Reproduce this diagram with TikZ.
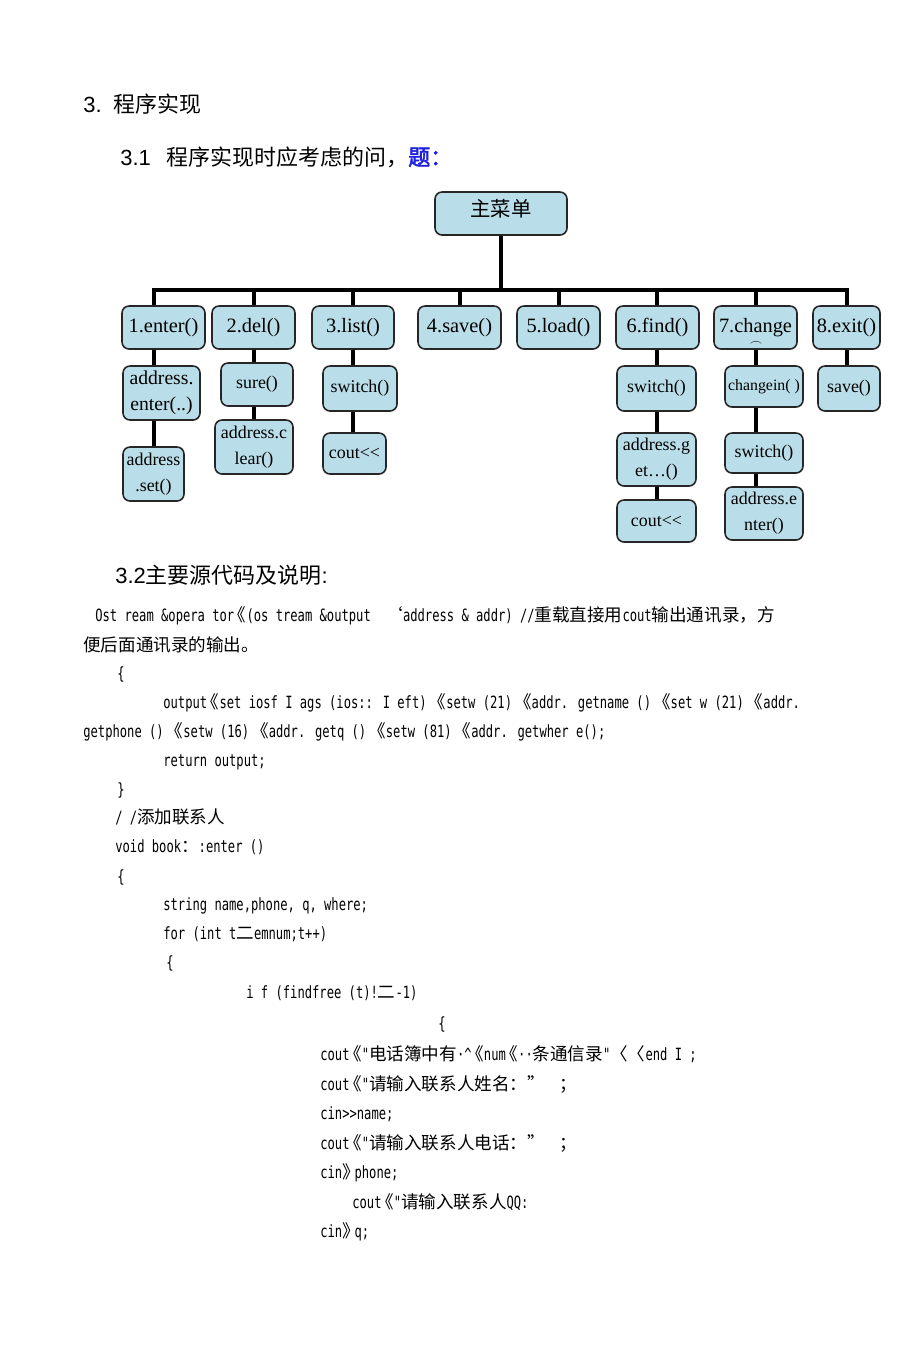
\documentclass[tikz,border=0pt]{standalone}
\usepackage{fontspec}
\setmainfont{Liberation Serif}
\newfontfamily\cjk{Noto Sans CJK SC}
\newfontfamily\cjkbold[FakeBold=2.5]{Noto Sans CJK SC}
\newfontfamily\headfont{Liberation Sans}
\newfontfamily\codefont[FakeStretch=0.72]{DejaVu Sans Mono}
\usetikzlibrary{positioning,calc}

\definecolor{menublue}{RGB}{186,222,233}
\definecolor{titleblue}{RGB}{32,32,224}
\newlength{\unitpx}\setlength{\unitpx}{0.02cm}
\newcommand{\cn}[1]{{\cjk #1}}
\newcommand{\cz}[1]{{\cjk\fontsize{10pt}{12pt}\selectfont #1}}
% narrow double angle marks as the code shows them
\newcommand{\shl}{{\cjk\fontsize{10pt}{12pt}\selectfont\kern-0.3em《}}
\newcommand{\shr}{{\cjk\fontsize{10pt}{12pt}\selectfont》\kern-0.3em}}

\begin{document}
\begin{tikzpicture}[
    x=0.02cm, y=-0.02cm,
    menu/.style={rectangle, draw=black!85, line width=0.9pt, rounded corners=4pt, fill=menublue, align=center, inner sep=1pt, font=\fontsize{11.6pt}{15pt}\selectfont},
    submenu/.style={menu, font=\fontsize{10.2pt}{15pt}\selectfont},
    sized/.style 2 args={minimum width=#1\unitpx, minimum height=#2\unitpx},
    link/.style={line width=2.2pt},
    bus/.style={line width=2.8pt, line cap=rect},
    heading/.style={anchor=west, inner sep=0pt, font=\headfont\fontsize{12.5pt}{15pt}\selectfont},
    codeline/.style={anchor=west, inner sep=0pt, font=\codefont\fontsize{9.6pt}{11pt}\selectfont}
]
    \path[fill=white] (0,0) rectangle (920,1360);
    \useasboundingbox (0,0) rectangle (920,1360);

    % --- Headings ---
    \node[heading] (sec3) at (83,104) {3.\hspace{7pt}\cn{程序实现}};
    \node[heading] (sec31) at (120,157) {3.1\hspace{9pt}\cn{程序实现时应考虑的问，}\textcolor{titleblue}{\cjkbold 题：}};

    % --- Menu tree ---
    \node[menu, sized={132}{43}, text depth=6pt] (root) at (501,213.5) {\cn{主菜单}};

    % First level
    \node[menu, sized={83}{43}] (enter) at (163.5,327.5) {1.enter()};
    \node[menu, sized={83}{43}] (del) at (253.5,327.5) {2.del()};
    \node[menu, sized={82}{43}] (list) at (353,327.5) {3.list()};
    \node[menu, sized={83}{43}] (save) at (459.5,327.5) {4.save()};
    \node[menu, sized={83}{43}] (load) at (558.5,327.5) {5.load()};
    \node[menu, sized={83}{43}] (find) at (657.5,327.5) {6.find()};
    \node[menu, sized={83}{43}] (change) at (755.5,327.5) {7.change};
    \node[menu, sized={67}{43}] (exit) at (846.5,327.5) {8.exit()};
    \node[inner sep=0pt, font=\fontsize{6pt}{6pt}\selectfont] (changemark) at (756,344) {$\frown$};

    % Second level and below
    \node[menu, sized={77}{54}, font=\fontsize{11.2pt}{15pt}\selectfont] (addrenter) at (161.5,393) {address.\\enter(..)};
    \node[submenu, sized={61}{54}] (addrset) at (153.5,474) {address\\.set()};
    \node[submenu, sized={72}{43}] (sure) at (257,384.5) {sure()};
    \node[submenu, sized={78}{54}] (addrclear) at (254,447) {address.c\\lear()};
    \node[submenu, sized={74}{45}] (listswitch) at (360,388.5) {switch()};
    \node[submenu, sized={63}{41}] (listcout) at (354.5,453.5) {cout<{}<};
    \node[submenu, sized={79}{45}] (findswitch) at (656.5,388.5) {switch()};
    \node[submenu, sized={79}{53}] (addrget) at (656.5,459.5) {address.g\\et…()};
    \node[submenu, sized={79}{42}] (findcout) at (656.5,521) {cout<{}<};
    \node[submenu, sized={78}{41}, font=\fontsize{9pt}{11pt}\selectfont] (changein) at (764,386.5) {changein( )};
    \node[submenu, sized={78}{40}] (chswitch) at (764,453) {switch()};
    \node[submenu, sized={78}{53}] (addrnew) at (764,513.5) {address.e\\nter()};
    \node[submenu, sized={62}{45}] (exitsave) at (849,388.5) {save()};

    % --- Connections ---
    \coordinate (col1) at (154,290);
    \coordinate (col2) at (254,290);
    \coordinate (col3) at (353,290);
    \coordinate (col4) at (460,290);
    \coordinate (col5) at (559,290);
    \coordinate (col6) at (657,290);
    \coordinate (col7) at (756,290);
    \coordinate (col8) at (847,290);

    \draw[link] (root.south) -- (root.south |- col1);
    \draw[bus] (col1) -- (col8);
    \foreach \c/\n in {col1/enter, col2/del, col3/list, col4/save, col5/load, col6/find, col7/change, col8/exit}
        \draw[link] (\c) -- (\c |- \n.north);
    \foreach \c/\a/\b in {col1/enter/addrenter, col1/addrenter/addrset, col2/del/sure, col2/sure/addrclear, col3/list/listswitch, col3/listswitch/listcout, col6/find/findswitch, col6/findswitch/addrget, col6/addrget/findcout, col7/change/changein, col7/changein/chswitch, col7/chswitch/addrnew, col8/exit/exitsave}
        \draw[link] (\c |- \a.south) -- (\c |- \b.north);

    % --- Source code ---
    \node[heading] (sec32) at (115,575) {3.2\cn{主要源代码及说明}:};

    \node[codeline] (c01) at (95,616) {Ost ream \&opera tor\shl(os tream \&output\ \ \cz{‘}address \& addr) //\cz{重载直接用}cout\cz{输出通讯录，方}};
    \node[codeline] (c02) at (83,645) {\cz{便后面通讯录的输出。}};
    \node[codeline] (c03) at (117,674) {\{};
    \node[codeline] (c04) at (163,703) {output\shl set iosf I ags (ios:: I eft) \shl setw (21) \shl addr. getname () \shl set w (21) \shl addr.};
    \node[codeline] (c05) at (83,732) {getphone () \shl setw (16) \shl addr. getq () \shl setw (81) \shl addr. getwher e();};
    \node[codeline] (c06) at (163,762) {return output;};
    \node[codeline] (c07) at (117,790) {\}};
    \node[codeline] (c08) at (115,817) {/ /\cz{添加联系人}};
    \node[codeline] (c09) at (115,847) {void book\cz{：}:enter ()};
    \node[codeline] (c10) at (117,877) {\{};
    \node[codeline] (c11) at (163,906) {string name,phone, q, where;};
    \node[codeline] (c12) at (163,934) {for (int t\cz{二}emnum;t++)};
    \node[codeline] (c13) at (166,963) {\{};
    \node[codeline] (c14) at (246,993) {i f (findfree (t)!\cz{二}-1)};
    \node[codeline] (c15) at (438,1024) {\{};
    \node[codeline] (c16) at (320,1054) {cout\shl"\cz{电话簿中有}·\textasciicircum\shl num\shl··\cz{条通信录}"\cz{〈〈}end I ;};
    \node[codeline] (c17) at (320,1084) {cout\shl"\cz{请输入联系人姓名：”}\ \ \cz{；}};
    \node[codeline] (c18) at (320,1114) {cin>{}>name;};
    \node[codeline] (c19) at (320,1143) {cout\shl"\cz{请输入联系人电话：”}\ \ \cz{；}};
    \node[codeline] (c20) at (320,1173) {cin\shr phone;};
    \node[codeline] (c21) at (352,1202) {cout\shl"\cz{请输入联系人}QQ:};
    \node[codeline] (c22) at (320,1232) {cin\shr q;};

\end{tikzpicture}
\end{document}
